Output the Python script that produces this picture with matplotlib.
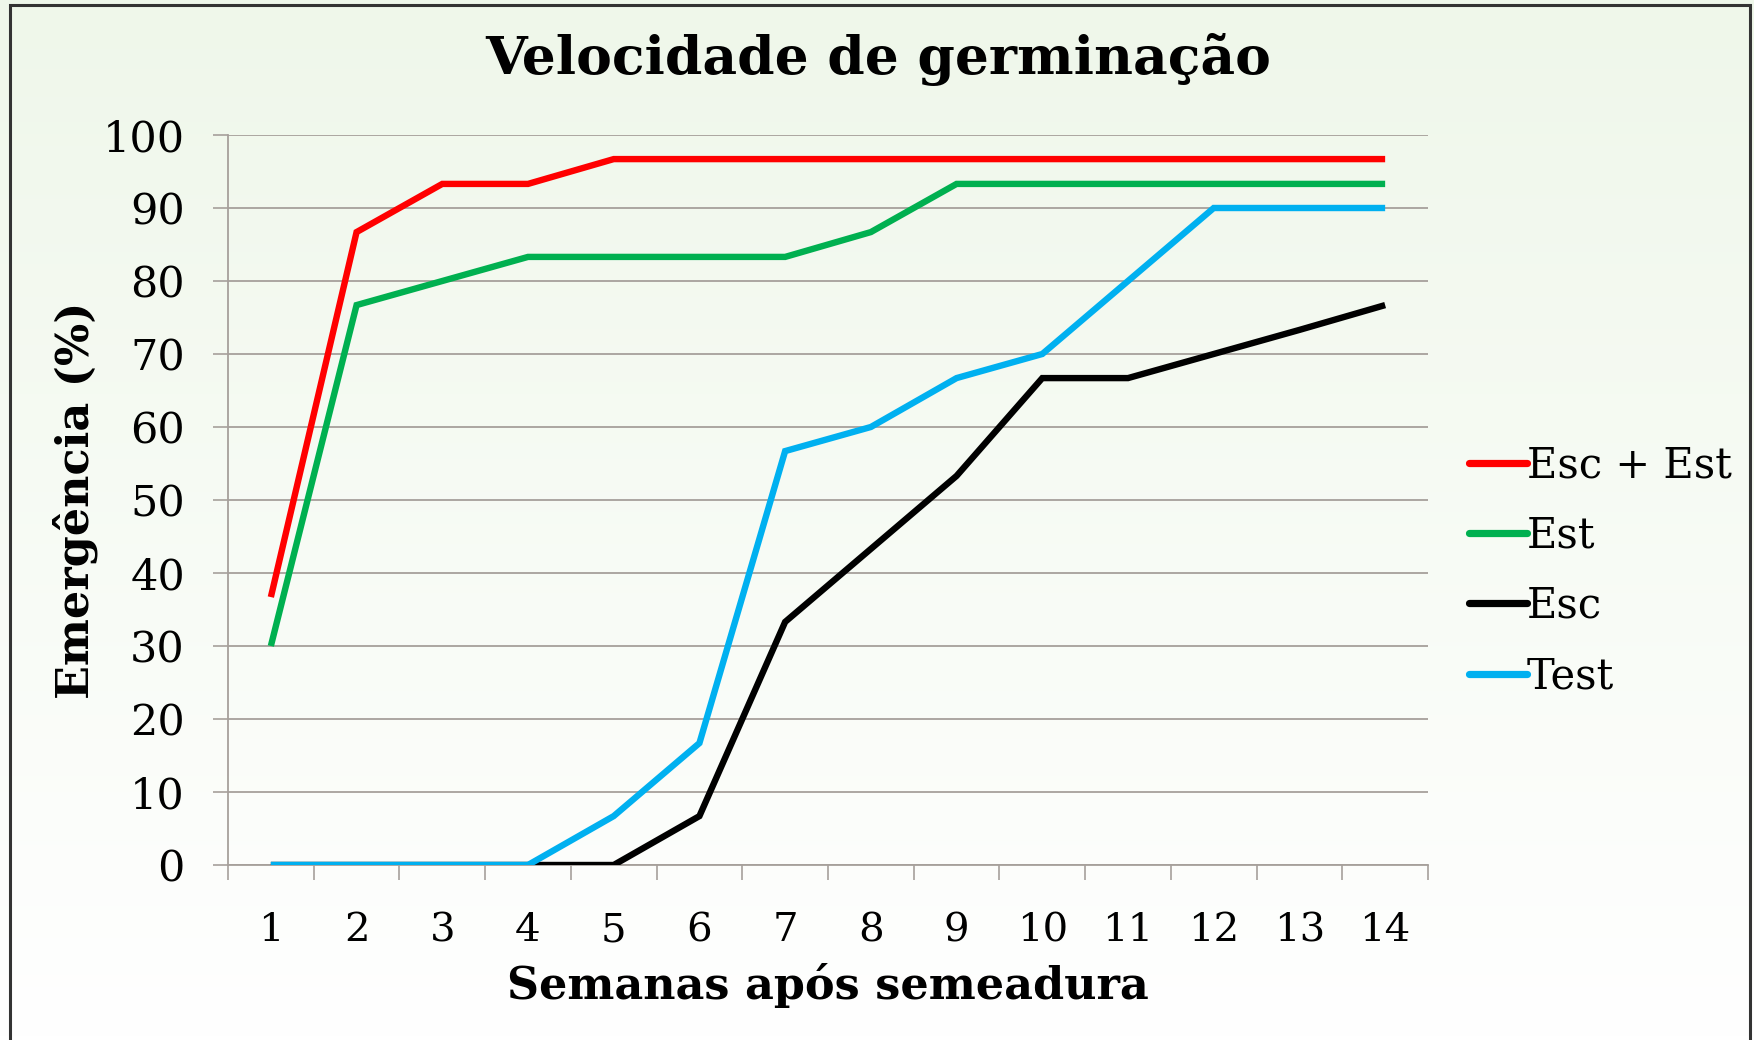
import matplotlib
matplotlib.use("Agg")
import matplotlib.pyplot as plt
import numpy as np
from matplotlib.patches import Rectangle

weeks = ["1", "2", "3", "4", "5", "6", "7", "8", "9", "10", "11", "12", "13", "14"]
esc_est = [36.7, 86.7, 93.3, 93.3, 96.7, 96.7, 96.7, 96.7, 96.7, 96.7, 96.7, 96.7, 96.7, 96.7]
est = [30.0, 76.7, 80.0, 83.3, 83.3, 83.3, 83.3, 86.7, 93.3, 93.3, 93.3, 93.3, 93.3, 93.3]
esc = [0, 0, 0, 0, 0, 6.7, 33.3, 43.3, 53.3, 66.7, 66.7, 70.0, 73.3, 76.7]
test = [0, 0, 0, 0, 6.7, 16.7, 56.7, 60.0, 66.7, 70.0, 80.0, 90.0, 90.0, 90.0]
series_names = ["Esc + Est", "Est", "Esc", "Test"]
series_colors = ["#ff0000", "#00b050", "#000000", "#00b0f0"]
yticks = [0, 10, 20, 30, 40, 50, 60, 70, 80, 90, 100]

plt.rcParams['font.family'] = ['DejaVu Serif']

W, H = 1754, 1040
fig = plt.figure(figsize=(W / 100, H / 100), dpi=100)

# background gradient
bg = fig.add_axes([0, 0, 1, 1], zorder=-10)
grad = np.linspace(0, 1, 256).reshape(-1, 1)
top = np.array([0.937, 0.969, 0.918])
bot = np.array([1.0, 1.0, 1.0])
img = top[None, None, :] * (1 - grad[:, :, None]) + bot[None, None, :] * grad[:, :, None]
bg.imshow(img, aspect='auto', extent=[0, 1, 0, 1], origin='upper')
bg.set_xlim(0, 1); bg.set_ylim(0, 1)
bg.axis('off')
bg.add_patch(Rectangle((10 / W, -0.05), (1750 - 10) / W, 1.05 - 5 / H,
                       fill=False, edgecolor='#333333', linewidth=2.2,
                       transform=bg.transAxes, clip_on=False))

ax = fig.add_axes([228 / W, 1 - 865 / H, 1200 / W, 730 / H])
ax.patch.set_alpha(0)

x = np.arange(len(weeks))
for vals, name, col in zip([esc_est, est, esc, test], series_names, series_colors):
    ax.plot(x, vals, color=col, linewidth=4.6, label=name,
            solid_capstyle='butt', solid_joinstyle='miter', zorder=3)

ax.set_xlim(-0.5, len(weeks) - 0.5)
ax.set_ylim(0, 100)
ax.set_yticks(yticks)
ax.set_yticklabels([str(v) for v in yticks], fontsize=31)
ax.yaxis.grid(True, color='#a6a09b', linewidth=1.3, zorder=1)
ax.set_axisbelow(True)

ax.set_xticks(x)
ax.set_xticklabels(weeks, fontsize=29)
ax.tick_params(axis='x', which='major', length=0, pad=34)
ax.set_xticks(np.arange(-0.5, len(weeks), 1.0), minor=True)
ax.tick_params(axis='x', which='minor', length=11, width=1.2, color='#a6a09b', direction='out')
ax.tick_params(axis='y', which='major', length=11, width=1.2, color='#a6a09b', direction='out', pad=20)

for s in ['top', 'right']:
    ax.spines[s].set_visible(False)
for s in ['left', 'bottom']:
    ax.spines[s].set_color('#a6a09b')
    ax.spines[s].set_linewidth(1.3)

ax.set_ylabel("Emergência (%)", fontsize=32, fontweight='bold')
ax.yaxis.set_label_coords(-0.108, 0.5)
ax.set_xlabel("Semanas após semeadura", fontsize=32, fontweight='bold')
ax.xaxis.set_label_coords(0.5, -0.134)

fig.text(878 / W, 1 - 60 / H, "Velocidade de germinação", fontsize=38.5,
         fontweight='bold', ha='center', va='center')

leg = ax.legend(loc='center left', bbox_to_anchor=(1.02, 0.403), frameon=False,
                fontsize=30, handlelength=1.4, handletextpad=0.0, labelspacing=0.68,
                borderaxespad=0)
for h in leg.get_lines():
    h.set_solid_capstyle('round')
    h.set_linewidth(5.2)

fig.savefig("out.png", dpi=100)
